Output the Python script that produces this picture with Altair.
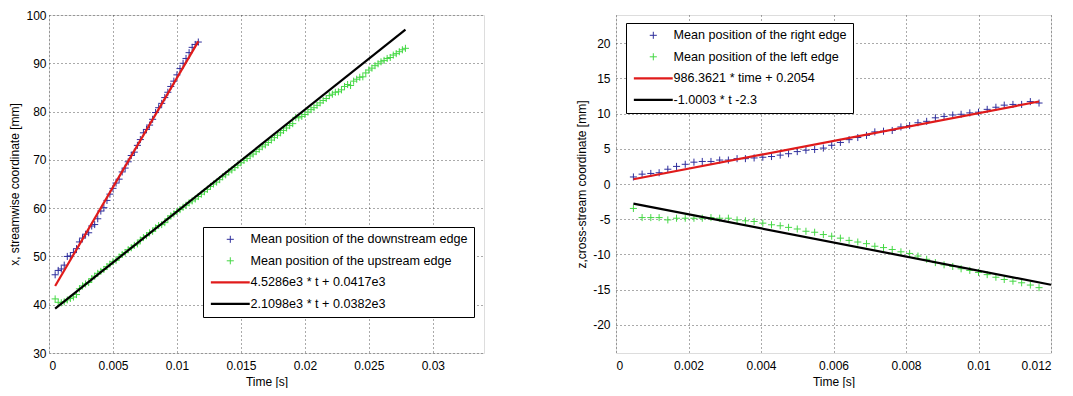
import altair as alt
import pandas as pd

FONT = "Liberation Sans"

# sample times [s]
t_all = [0.00048, 0.00072, 0.00096, 0.00119, 0.00143, 0.00167, 0.00191, 0.00215, 0.00238, 0.00262,
         0.00286, 0.00310, 0.00334, 0.00357, 0.00381, 0.00405, 0.00429, 0.00453, 0.00476, 0.00500,
         0.00524, 0.00548, 0.00572, 0.00595, 0.00619, 0.00643, 0.00667, 0.00691, 0.00714, 0.00738,
         0.00762, 0.00786, 0.00810, 0.00833, 0.00857, 0.00881, 0.00905, 0.00929, 0.00952, 0.00976,
         0.01000, 0.01024, 0.01048, 0.01071, 0.01095, 0.01119, 0.01143, 0.01167, 0.01191, 0.01215,
         0.01238, 0.01262, 0.01286, 0.01310, 0.01334, 0.01357, 0.01381, 0.01405, 0.01429, 0.01453,
         0.01476, 0.01500, 0.01524, 0.01548, 0.01572, 0.01595, 0.01619, 0.01643, 0.01667, 0.01691,
         0.01714, 0.01738, 0.01762, 0.01786, 0.01810, 0.01833, 0.01857, 0.01881, 0.01905, 0.01929,
         0.01952, 0.01976, 0.02000, 0.02024, 0.02048, 0.02071, 0.02095, 0.02119, 0.02143, 0.02167,
         0.02191, 0.02215, 0.02238, 0.02262, 0.02286, 0.02310, 0.02334, 0.02357, 0.02381, 0.02405,
         0.02429, 0.02453, 0.02476, 0.02500, 0.02524, 0.02548, 0.02572, 0.02595, 0.02619, 0.02643,
         0.02667, 0.02691, 0.02714, 0.02738, 0.02762, 0.02786]

# left panel: streamwise position [mm]
left_downstream = [46.2, 47.1, 47.4, 48.2, 50.0, 50.1, 50.8, 51.6, 53.0, 53.8,
                   54.6, 54.9, 56.3, 56.6, 57.8, 59.4, 60.1, 61.6, 62.9, 64.1,
                   65.2, 66.0, 67.5, 68.3, 69.6, 70.9, 71.6, 73.0, 74.2, 75.6,
                   76.3, 77.2, 78.4, 79.8, 80.8, 81.7, 82.9, 84.0, 85.2, 86.3,
                   87.6, 88.9, 90.0, 91.0, 92.2, 93.3, 93.9, 94.4]
left_upstream = [41.2, 40.5, 40.4, 40.6, 41.0, 41.3, 41.6, 42.1, 43.3, 43.9,
                 44.3, 44.6, 45.4, 45.9, 46.5, 46.9, 47.3, 47.9, 48.4, 48.9,
                 49.2, 49.9, 50.4, 50.8, 51.4, 51.8, 52.3, 52.6, 53.4, 53.9,
                 54.3, 54.9, 55.2, 55.9, 56.4, 56.6, 57.0, 57.8, 58.4, 58.8,
                 59.3, 59.7, 60.2, 60.6, 61.1, 61.5, 61.9, 62.4, 62.9, 63.4,
                 63.9, 64.5, 65.0, 65.4, 65.9, 66.5, 66.9, 67.5, 67.9, 68.4,
                 68.9, 69.4, 69.9, 70.3, 70.8, 71.2, 71.7, 72.2, 72.7, 73.1,
                 73.6, 74.1, 74.6, 75.1, 75.6, 76.1, 76.6, 77.1, 77.5, 78.8,
                 78.7, 79.0, 79.4, 79.9, 80.4, 80.8, 81.3, 81.8, 82.3, 82.7,
                 83.3, 83.6, 84.0, 84.1, 84.5, 85.2, 85.6, 85.4, 86.3, 86.7,
                 87.1, 87.2, 88.0, 88.6, 89.0, 89.5, 89.9, 90.3, 90.6, 91.0,
                 91.2, 91.7, 92.0, 92.4, 92.8, 93.1]

# right panel: cross-stream position [mm]
right_right = [1.0, 1.4, 1.5, 1.6, 2.1, 2.5, 2.8, 3.1, 3.2, 3.2,
               3.4, 3.4, 3.6, 3.6, 3.7, 3.8, 3.9, 4.1, 4.3, 4.6,
               4.8, 4.9, 5.1, 5.5, 5.9, 6.3, 6.6, 6.9, 7.4, 7.5,
               7.6, 8.1, 8.3, 8.7, 8.9, 9.4, 9.6, 9.8, 9.9, 10.1,
               10.2, 10.6, 10.9, 11.2, 11.3, 11.3, 11.7, 11.5]
right_left = [-3.47, -4.77, -4.77, -4.77, -5.10, -4.86, -4.86, -4.86, -4.86, -4.77,
              -4.86, -4.86, -5.10, -5.23, -5.32, -5.56, -5.79, -5.93, -6.16, -6.39,
              -6.71, -6.85, -7.18, -7.41, -7.69, -8.01, -8.24, -8.47, -8.84, -9.03,
              -9.30, -9.63, -9.86, -10.23, -10.69, -11.16, -11.48, -11.71, -12.04, -12.27,
              -12.55, -12.87, -13.24, -13.56, -13.80, -14.03, -14.35, -14.72]

# linear fits (slope per second, intercept in mm) and their time spans
left_series = ["Mean position of the downstream edge", "Mean position of the upstream edge",
               "4.5286e3 * t + 0.0417e3", "2.1098e3 * t + 0.0382e3"]
left_slopes = [4528.6, 2109.8]
left_intercepts = [41.7, 38.2]
left_fit_start = [0.00048, 0.00048]
left_fit_end = [0.01167, 0.02786]

right_series = ["Mean position of the right edge", "Mean position of the left edge",
                "986.3621 * time + 0.2054", "-1.0003 * t -2.3"]
right_slopes = [986.3621, -1000.3]
right_intercepts = [0.2054, -2.3]
right_fit_start = [0.00048, 0.00048]
right_fit_end = [0.01167, 0.012]

COLORS = ["#2e2e9c", "#45d845", "#e01b1b", "#000000"]
PLUS = "M-1,0H1M0,-1V1"
LINE = "M-5.5,0H5.5"
SHAPES = [PLUS, PLUS, LINE, LINE]
WIDTHS = [1, 1, 2.2, 2.2]

n_down = len(left_downstream)
left_pts = pd.DataFrame({
    "t": t_all[:n_down] + t_all[:len(left_upstream)],
    "v": left_downstream + left_upstream,
    "s": [left_series[0]] * n_down + [left_series[1]] * len(left_upstream),
})
right_pts = pd.DataFrame({
    "t": t_all[:len(right_right)] + t_all[:len(right_left)],
    "v": right_right + right_left,
    "s": [right_series[0]] * len(right_right) + [right_series[1]] * len(right_left),
})


def fit_frame(series, slopes, intercepts, starts, ends):
    rows = []
    for name, a, b, t0, t1 in zip(series[2:], slopes, intercepts, starts, ends):
        rows.append({"t": t0, "v": a * t0 + b, "s": name})
        rows.append({"t": t1, "v": a * t1 + b, "s": name})
    return pd.DataFrame(rows)


left_fit = fit_frame(left_series, left_slopes, left_intercepts, left_fit_start, left_fit_end)
right_fit = fit_frame(right_series, right_slopes, right_intercepts, right_fit_start, right_fit_end)


def axis(values, title_pad, label_pad):
    return alt.Axis(values=values, labelExpr="'' + datum.value", grid=True, gridColor="#444444",
                    gridDash=[1, 3], gridWidth=1, gridOpacity=0.9, domain=False, ticks=False,
                    labelFont=FONT, labelFontSize=12, labelColor="black",
                    titleFont=FONT, titleFontSize=12, titleFontWeight="normal", titleColor="black",
                    labelPadding=label_pad, titlePadding=title_pad)


def panel(pts, fit, series, xdom, xvals, ydom, yvals, ytitle, lx, ly, ylabpad, ytitpad):
    leg = alt.Legend(title=None, orient="none", legendX=lx, legendY=ly, fillColor="white",
                     strokeColor="black", padding=6, symbolSize=50, symbolOffset=15,
                     labelOffset=14, rowPadding=8.5, labelFont=FONT, labelFontSize=12.6,
                     labelColor="black", labelLimit=500, cornerRadius=0)
    xs = alt.Scale(domain=xdom, nice=False, zero=False)
    ys = alt.Scale(domain=ydom, nice=False, zero=False)
    enc = dict(
        color=alt.Color("s:N", scale=alt.Scale(domain=series, range=COLORS), legend=leg),
        strokeWidth=alt.StrokeWidth("s:N", scale=alt.Scale(type="ordinal", domain=series, range=WIDTHS),
                                    legend=leg),
    )
    p = alt.Chart(pts).mark_point(filled=False, size=50, opacity=1).encode(
        x=alt.X("t:Q", scale=xs, axis=axis(xvals, 5, 7), title="Time [s]"),
        y=alt.Y("v:Q", scale=ys, axis=axis(yvals, ytitpad, ylabpad), title=ytitle),
        shape=alt.Shape("s:N", scale=alt.Scale(domain=series, range=SHAPES), legend=leg),
        **enc,
    )
    l = alt.Chart(fit).mark_line().encode(
        x=alt.X("t:Q", scale=xs),
        y=alt.Y("v:Q", scale=ys),
        **enc,
    )
    return alt.layer(p, l).properties(width=435, height=338)


left = panel(left_pts, left_fit, left_series, [0, 0.034],
             [0, 0.005, 0.01, 0.015, 0.02, 0.025, 0.03], [30, 100],
             [30, 40, 50, 60, 70, 80, 90, 100], "x, streamwise coordinate [mm]", 154, 212, 3, 4)
right = panel(right_pts, right_fit, right_series, [0, 0.012],
              [0, 0.002, 0.004, 0.006, 0.008, 0.01, 0.012], [-24, 24],
              [-20, -15, -10, -5, 0, 5, 10, 15, 20], "z,cross-stream coordinate [mm]", 10, 8, 6, 4)

chart = alt.hconcat(left, right, spacing=90).resolve_scale(
    color="independent", shape="independent", strokeWidth="independent"
).properties(
    padding={"left": 0, "top": 0, "right": 0, "bottom": 0}
).configure_view(stroke="black", strokeWidth=1).configure(background="white")

chart.save("out.html", embed_options={"renderer": "svg", "actions": False})
